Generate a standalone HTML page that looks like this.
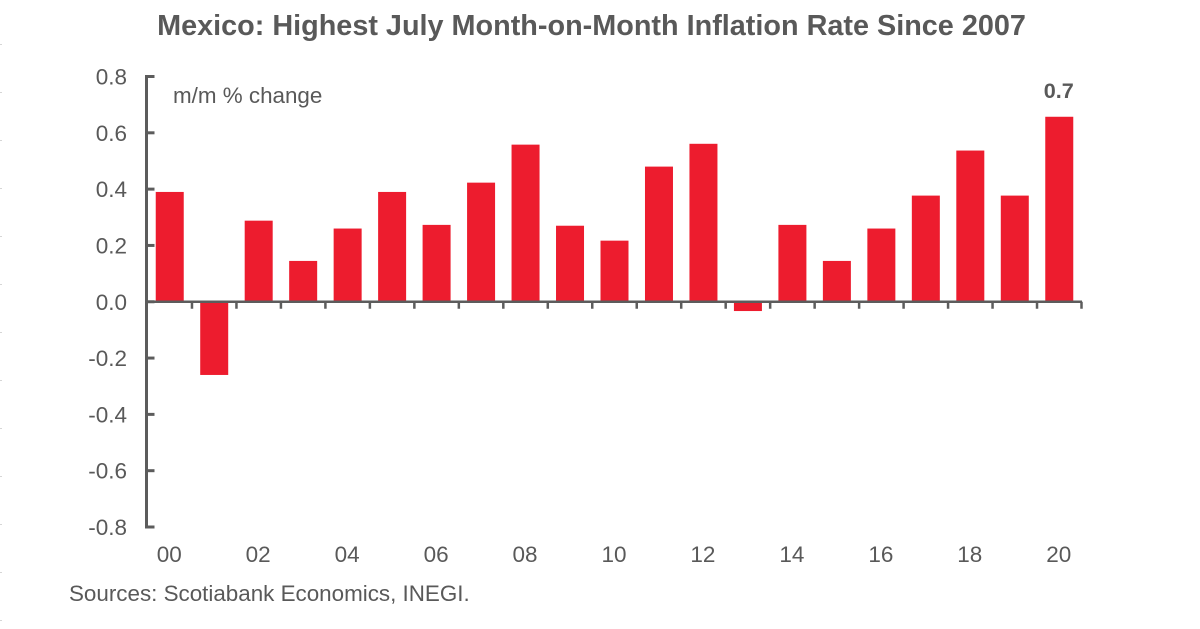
<!DOCTYPE html>
<html>
<head>
<meta charset="utf-8">
<style>
html,body{margin:0;padding:0;background:#fff;width:1200px;height:629px;overflow:hidden}
svg{display:block}
text{font-family:"Liberation Sans",sans-serif;fill:#595959}
</style>
</head>
<body>
<svg id="chart" width="1200" height="629" viewBox="0 0 1200 629" xmlns="http://www.w3.org/2000/svg"></svg>
<script>
const years = ['00','01','02','03','04','05','06','07','08','09','10','11','12','13','14','15','16','17','18','19','20'];
const values = [0.39,-0.26,0.288,0.145,0.26,0.39,0.273,0.423,0.558,0.27,0.217,0.48,0.561,-0.033,0.273,0.145,0.26,0.377,0.537,0.377,0.657];
const yTicks = [0.8,0.6,0.4,0.2,0,-0.2,-0.4,-0.6,-0.8];
const calloutLabel = '0.7';

const svg = document.getElementById('chart');
const NS = 'http://www.w3.org/2000/svg';
const AXIS = '#5c5c5c';
const plotLeft = 147.5, plotRight = 1081.5, yTop = 76.5, yBottom = 527;
const yScale = v => yTop + (0.8 - v) / 1.6 * (yBottom - yTop);
const xBand = () => (plotRight - plotLeft) / years.length;
const xCenter = i => plotLeft + xBand() * (i + 0.5);

function make(tag, attrs, text) {
  const el = document.createElementNS(NS, tag);
  for (const k in attrs) el.setAttribute(k, attrs[k]);
  if (text !== undefined) el.textContent = text;
  svg.appendChild(el);
  return el;
}

// faint crop marks on the left edge
for (let i = 0; i < 13; i++) {
  const m = make('rect', {x: 0, y: 44 + 48 * i, width: 2, height: 1, fill: '#d6d6d6'});
  
  
}

// title
const title = make('text', {x: 591.5, y: 35, 'text-anchor': 'middle', 'font-size': 28.8, 'font-weight': 'bold'}, 'Mexico: Highest July Month-on-Month Inflation Rate Since 2007');



// bars
values.forEach((v, i) => {
  const y0 = yScale(0), y1 = yScale(v);
  const r = make('rect', {x: xCenter(i) - 14, y: Math.min(y0, y1), width: 28, height: Math.abs(y1 - y0), fill: '#ed1c2e'});
  
  
});

// y axis
const yAxis = make('line', {x1: 146.5, x2: 146.5, y1: yScale(0.8) - 1.5, y2: yScale(-0.8) + 1.5, stroke: AXIS, 'stroke-width': 3});



yTicks.forEach(t => {
  const tick = make('line', {x1: 146, x2: 154.5, y1: yScale(t), y2: yScale(t), stroke: AXIS, 'stroke-width': 3});
  
  
  const lab = make('text', {x: 127, y: yScale(t) + 8, 'text-anchor': 'end', 'font-size': 22.5}, t.toFixed(1));
  
  
});

// x axis
const xAxis = make('line', {x1: 146, x2: plotRight + 0.5, y1: yScale(0), y2: yScale(0), stroke: AXIS, 'stroke-width': 2.4});



years.forEach((yr, i) => {
  const tx = plotLeft + xBand() * (i + 1);
  const tick = make('line', {x1: tx, x2: tx, y1: yScale(0), y2: yScale(0) + 7, stroke: AXIS, 'stroke-width': 2.5});
  
  
  if (i % 2 === 0) {
    const lab = make('text', {x: xCenter(i) - 0.5, y: 562, 'text-anchor': 'middle', 'font-size': 22.5}, yr);
    
    
  }
});

// annotations
const unit = make('text', {x: 173, y: 103, 'font-size': 22.4}, 'm/m % change');



const last = values.length - 1;
const callout = make('text', {x: xCenter(last) - 0.5, y: yScale(values[last]) - 19, 'text-anchor': 'middle', 'font-size': 21.6, 'font-weight': 'bold'}, calloutLabel);



const source = make('text', {x: 69, y: 601, 'font-size': 22.4}, 'Sources: Scotiabank Economics, INEGI.');


</script>
</body>
</html>
